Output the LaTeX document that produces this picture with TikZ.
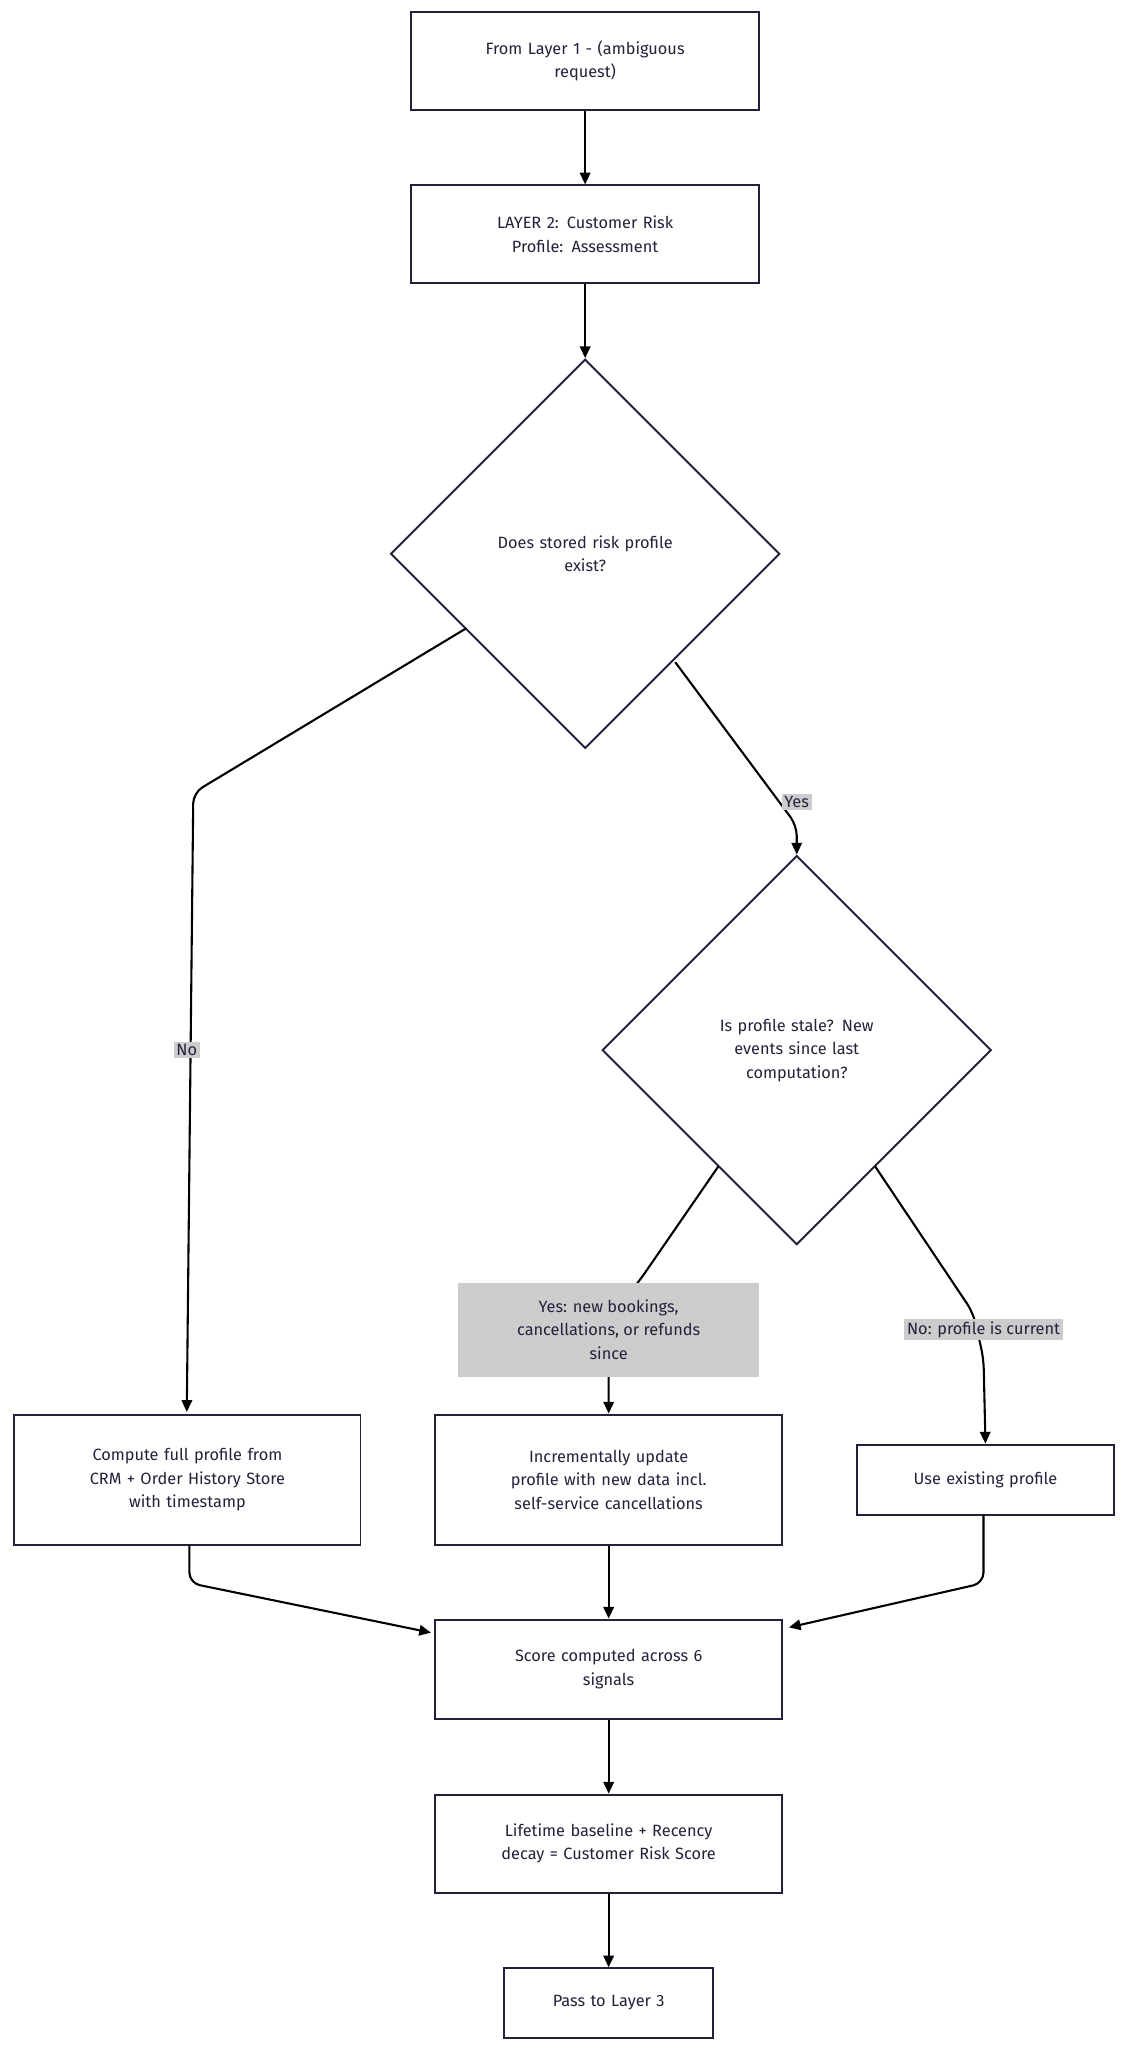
\documentclass[tikz,border=0pt]{standalone}
\usepackage{fontspec}
\setmainfont{Fira Sans}
\usetikzlibrary{shapes.geometric,arrows.meta}
\definecolor{ink}{HTML}{22223A}
\definecolor{lab}{HTML}{CCCCCC}
\begin{document}
\begin{tikzpicture}[x=1pt,y=-1pt,
  font=\fontsize{12.5}{18}\selectfont\color{ink},
  box/.style={draw=ink,line width=1.5pt,fill=white,align=center,inner sep=0pt},
  dia/.style={draw=ink,line width=1.5pt,diamond,minimum width=298pt,minimum height=298pt,inner sep=0pt,align=center,text width=180pt},
  arr/.style={draw=black,line width=1.6pt,-{Triangle[length=9pt,width=8pt]},rounded corners=8pt},
  lbl/.style={fill=lab,inner sep=2pt,align=center,text=ink}]
\useasboundingbox (0,0) rectangle (860,1568);
\node[box,minimum width=266pt,minimum height=75pt,text width=230pt] (n1) at (448,46.5) {From Layer 1 - (ambiguous\\request)};
\node[box,minimum width=266pt,minimum height=75pt,text width=230pt] (n2) at (448,179.5) {LAYER 2: Customer Risk\\Profile: Assessment};
\node[dia] (d1) at (448,424) {Does stored risk profile\\exist?};
\node[dia] (d2) at (610,804) {Is profile stale? New\\events since last\\computation?};
\node[box,minimum width=265pt,minimum height=100pt,text width=240pt] (b1) at (143.5,1133) {Compute full profile from\\CRM + Order History Store\\with timestamp};
\node[box,minimum width=266pt,minimum height=100pt,text width=240pt] (b2) at (466,1133) {Incrementally update\\profile with new data incl.\\self-service cancellations};
\node[box,minimum width=197pt,minimum height=54pt,text width=180pt] (b3) at (754.5,1133) {Use existing profile};
\node[box,minimum width=266pt,minimum height=76pt,text width=230pt] (s) at (466,1278) {Score computed across 6\\signals};
\node[box,minimum width=266pt,minimum height=75pt,text width=230pt] (l) at (466,1411.5) {Lifetime baseline + Recency\\decay = Customer Risk Score};
\node[box,minimum width=160pt,minimum height=53pt,text width=150pt] (p) at (466,1533.5) {Pass to Layer 3};
\coordinate (c1) at (148,607);
\coordinate (c2) at (610,632);
\coordinate (c3) at (466,1010);
\coordinate (c4) at (745,1005);
\coordinate (c5) at (753,1040);
\coordinate (c6) at (145,1212);
\coordinate (c7) at (753,1212);
\draw[arr] (n1) -- (n2);
\draw[arr] (n2) -- (d1);
\draw[arr] (357,481) -- (c1) -- (143,1081) coordinate (e1);
\draw[arr] (517,507) -- (c2) -- (d2.north);
\draw[arr] (550,893) -- (490,980) -- (466,1010) -- (b2.north);
\draw[arr] (670,893) -- (c4) -- (c5) -- (b3.north);
\draw[arr] (145,1183) -- (c6) -- (330,1250);
\draw[arr] (b2) -- (s);
\draw[arr] (753,1160) -- (c7) -- (604,1246);
\draw[arr] (s) -- (l);
\draw[arr] (l) -- (p);
\node[lbl] (t1) at (143,804) {No};
\node[lbl] (t2) at (610,614) {Yes};
\node[lbl,minimum width=230pt,minimum height=72pt] (t3) at (466,1018) {Yes: new bookings,\\cancellations, or refunds\\since};
\node[lbl] (t4) at (753,1018) {No: profile is current};
\end{tikzpicture}
\end{document}
